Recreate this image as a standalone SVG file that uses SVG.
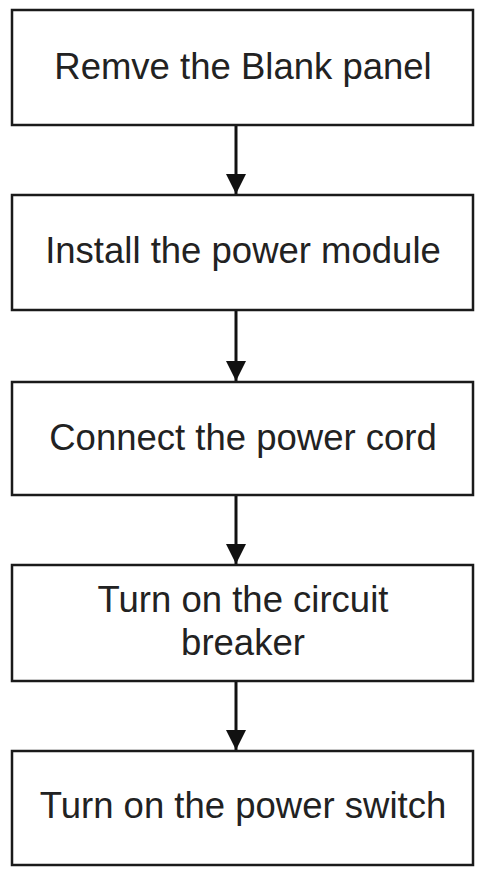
<svg xmlns="http://www.w3.org/2000/svg" width="479" height="871" viewBox="0 0 479 871">
<style>
.box{fill:#fff;stroke:#1a1a1a;stroke-width:2.5}
.lbl{font-family:"Liberation Sans",Arial,sans-serif;font-size:36.5px;fill:#222;text-anchor:middle}
.edge{stroke:#111;stroke-width:3;fill:none}
</style>
<defs>
<marker id="ah" markerWidth="20" markerHeight="20" viewBox="0 0 20 20" refX="20" refY="10" orient="auto" markerUnits="userSpaceOnUse">
<path d="M0,0 L20,10 L0,20 Z" fill="#111"/>
</marker>
</defs>
<rect width="479" height="871" fill="#fff"/>
<g id="connectors">
<line class="edge" x1="236" y1="126" x2="236" y2="194" marker-end="url(#ah)"/>
<line class="edge" x1="236" y1="311" x2="236" y2="381" marker-end="url(#ah)"/>
<line class="edge" x1="236" y1="496" x2="236" y2="564" marker-end="url(#ah)"/>
<line class="edge" x1="236" y1="682" x2="236" y2="750" marker-end="url(#ah)"/>
</g>
<g id="n1">
<rect class="box" x="12" y="10" width="461" height="115"/>
<text class="lbl" x="243" y="79">Remve the Blank panel</text>
</g>
<g id="n2">
<rect class="box" x="12" y="195" width="461" height="115"/>
<text class="lbl" x="243" y="263">Install the power module</text>
</g>
<g id="n3">
<rect class="box" x="12" y="382" width="461" height="113"/>
<text class="lbl" x="243" y="450">Connect the power cord</text>
</g>
<g id="n4">
<rect class="box" x="12" y="565" width="461" height="116"/>
<text class="lbl" x="243" y="612">Turn on the circuit</text>
<text class="lbl" x="243" y="655">breaker</text>
</g>
<g id="n5">
<rect class="box" x="12" y="751" width="461" height="114"/>
<text class="lbl" x="243" y="818">Turn on the power switch</text>
</g>
</svg>
